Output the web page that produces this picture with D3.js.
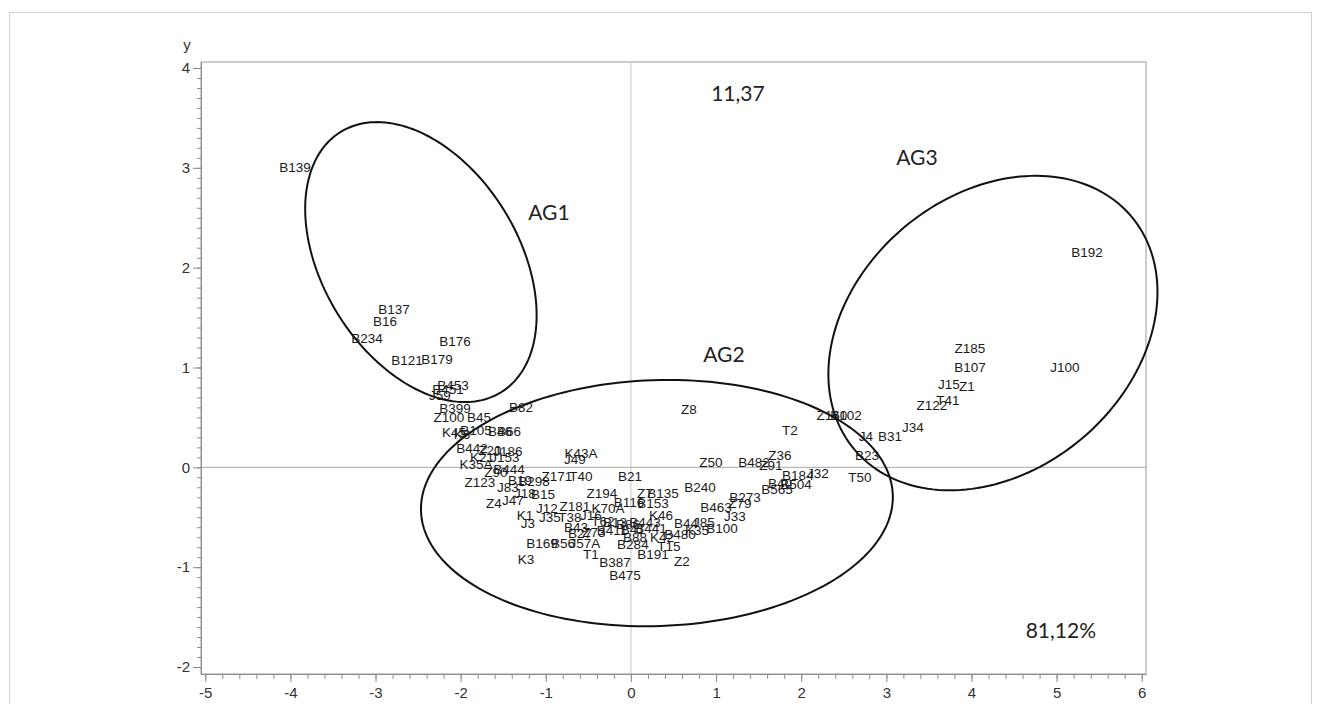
<!DOCTYPE html>
<html>
<head>
<meta charset="utf-8">
<script src="https://cdn.jsdelivr.net/npm/d3@7"></script>
<style>
  body { margin: 0; background: #fff; }
  svg { display: block; }
  .tick text { font-family: "Liberation Sans", Arial, sans-serif; font-size: 15px; fill: #333; }
  .axis path, .axis line { stroke: #8c8c8c; }
  .pt { font-family: "Liberation Sans", Arial, sans-serif; font-size: 13.5px; fill: #1a1a1a; }
  .note { font-family: Lato, "Open Sans", sans-serif; font-size: 21px; fill: #222; }
</style>
</head>
<body>
<svg id="chart"></svg>
<script>
// puntos (etiqueta, coordenada x, coordenada y)
const labels = ['B139','B137','B16','B234','B176','B121','B179','B453','B451','J59','B399','Z100','B45','K45','B105','K6','B46','B66','B82',
  'B442','Z20','J186','K21','J153','K35A','B444','Z90','Z123','J83','B19','B298','J18','B15','Z171','T40','K43A','J49','Z4','J47','K1','J3',
  'J12','Z181','J35','T38','J16','K70A','B43','B27','Z73','B169','B56','J57A','K3','T1','B387','B475','Z194','B21','B240','Z7','B135','B116',
  'B153','K46','T62','B13','B86','B443','B41','B441','B411','B88','B284','K42','B480','T15','B191','Z2','B44','J85','K35','B100','B463','Z79',
  'B273','J33','Z50','B482','Z91','Z36','T2','Z8','B184','J32','B40','B504','B565','Z160','B102','J4','B31','B23','T50','J34','Z122','T41',
  'J15','Z1','Z185','B107','J100','B192'];
const xs = [-3.946,-2.784,-2.889,-3.101,-2.067,-2.631,-2.279,-2.091,-2.149,-2.243,-2.067,-2.138,-1.785,-2.079,-1.821,-1.985,-1.539,-1.433,-1.292,
  -1.867,-1.656,-1.445,-1.750,-1.480,-1.821,-1.433,-1.586,-1.774,-1.445,-1.304,-1.139,-1.245,-1.034,-0.869,-0.587,-0.587,-0.658,-1.609,-1.386,-1.245,-1.210,
  -0.987,-0.658,-0.951,-0.716,-0.470,-0.270,-0.646,-0.599,-0.435,-1.045,-0.799,-0.540,-1.233,-0.470,-0.188,-0.070,-0.341,-0.012,0.810,0.164,0.376,-0.023,
  0.258,0.352,-0.329,-0.188,-0.035,0.164,0.023,0.235,-0.223,0.047,0.023,0.364,0.576,0.446,0.258,0.599,0.646,0.857,0.775,1.069,0.998,1.280,
  1.339,1.222,0.940,1.445,1.644,1.750,1.867,0.681,1.961,2.196,1.750,1.938,1.715,2.361,2.525,2.760,3.042,2.772,2.690,3.312,3.535,3.723,
  3.735,3.946,3.982,3.982,5.098,5.356];
const ys = [3.008,1.586,1.465,1.295,1.265,1.075,1.085,0.824,0.784,0.724,0.594,0.504,0.504,0.354,0.374,0.334,0.364,0.364,0.604,
  0.194,0.174,0.164,0.104,0.104,0.033,-0.017,-0.047,-0.148,-0.198,-0.128,-0.138,-0.258,-0.268,-0.088,-0.088,0.143,0.083,-0.358,-0.328,-0.478,-0.559,
  -0.408,-0.388,-0.498,-0.498,-0.478,-0.408,-0.599,-0.659,-0.649,-0.759,-0.759,-0.759,-0.919,-0.869,-0.949,-1.079,-0.258,-0.088,-0.198,-0.258,-0.258,-0.348,
  -0.358,-0.478,-0.539,-0.549,-0.569,-0.549,-0.619,-0.609,-0.629,-0.699,-0.769,-0.699,-0.669,-0.789,-0.869,-0.939,-0.559,-0.549,-0.629,-0.609,-0.398,-0.358,
  -0.298,-0.488,0.053,0.053,0.023,0.123,0.374,0.584,-0.078,-0.058,-0.158,-0.168,-0.218,0.524,0.524,0.314,0.314,0.123,-0.098,0.404,0.624,0.674,
  0.834,0.814,1.195,1.005,1.005,2.157];

// elipses de los grupos: centro y semiejes conjugados (unidades de datos)
const groups = ['AG1', 'AG2', 'AG3'];
const ellCenter = [[-2.467, 2.056], [0.305, -0.358], [4.252, 1.345]];
const ellAxisU = [[0.942, -1.304], [2.771, 0.082], [1.628, 1.166]];
const ellAxisV = [[-0.980, -0.515], [0.050, -1.231], [1.042, -1.059]];

// textos sueltos
const notes = ['11,37', 'AG1', 'AG2', 'AG3', '81,12%'];
const noteX = [1.257, -0.963, 1.092, 3.359, 5.050];
const noteY = [3.746, 2.557, 1.135, 3.108, -1.638];

const xTicks = d3.range(-5, 7);
const yTicks = d3.range(-2, 5);

const width = 1322;
const height = 704;

const svg = d3.select('#chart').attr('width', width).attr('height', height);

const x = d3.scaleLinear().domain([-5.05, 6.05]).range([201, 1146]);
const y = d3.scaleLinear().domain([-2.07, 4.06]).range([674, 62]);

// borde exterior
svg.append('rect')
  .attr('x', 9.5).attr('y', 12.5).attr('width', 1302).attr('height', 700)
  .attr('fill', 'none').attr('stroke', '#d0d0d0');

// marco del grafico
svg.append('rect')
  .attr('x', x(-5.05)).attr('y', y(4.06))
  .attr('width', x(6.05) - x(-5.05)).attr('height', y(-2.07) - y(4.06))
  .attr('fill', 'none').attr('stroke', '#9a9a9a');

// lineas de referencia en 0
svg.append('line')
  .attr('x1', x(-5.05)).attr('x2', x(6.05)).attr('y1', y(0)).attr('y2', y(0))
  .attr('stroke', '#a8a8a8');
svg.append('line')
  .attr('x1', x(0)).attr('x2', x(0)).attr('y1', y(4.06)).attr('y2', y(-2.07))
  .attr('stroke', '#c4c4c4');

// ejes
const yMinor = d3.range(-20, 41).map(d => d / 10);
const xMinor = d3.range(-25, 31).map(d => d / 5);
const fmt = d => String(d);

svg.append('g').attr('class', 'axis')
  .attr('transform', `translate(${x(-5.05)},0)`)
  .call(d3.axisLeft(y).tickValues(yMinor).tickSize(4).tickSizeOuter(0).tickFormat(''));
svg.append('g').attr('class', 'axis')
  .attr('transform', `translate(${x(-5.05)},0)`)
  .call(d3.axisLeft(y).tickValues(yTicks).tickSize(8).tickSizeOuter(0).tickPadding(3).tickFormat(fmt))
  .select('.domain').remove();

svg.append('g').attr('class', 'axis')
  .attr('transform', `translate(0,${y(-2.07)})`)
  .call(d3.axisBottom(x).tickValues(xMinor).tickSize(5).tickSizeOuter(0).tickFormat(''));
svg.append('g').attr('class', 'axis')
  .attr('transform', `translate(0,${y(-2.07)})`)
  .call(d3.axisBottom(x).tickValues(xTicks).tickSize(8).tickSizeOuter(0).tickPadding(5).tickFormat(fmt))
  .select('.domain').remove();

svg.append('text')
  .attr('x', x(-5.05) - 14).attr('y', y(4) - 18)
  .attr('text-anchor', 'middle')
  .style('font-family', '"Liberation Sans", Arial, sans-serif')
  .style('font-size', '15px').style('fill', '#333')
  .text('y');

// elipses
const ellLine = d3.line().curve(d3.curveLinearClosed);
groups.forEach((g, i) => {
  const pts = d3.range(0, 360, 2).map(a => {
    const t = a * Math.PI / 180;
    const px = ellCenter[i][0] + Math.cos(t) * ellAxisU[i][0] + Math.sin(t) * ellAxisV[i][0];
    const py = ellCenter[i][1] + Math.cos(t) * ellAxisU[i][1] + Math.sin(t) * ellAxisV[i][1];
    return [x(px), y(py)];
  });
  svg.append('path')
    .attr('d', ellLine(pts))
    .attr('fill', 'none')
    .attr('stroke', '#111')
    .attr('stroke-width', 2);
});

// etiquetas de los puntos
svg.append('g')
  .selectAll('text')
  .data(labels)
  .enter().append('text')
  .attr('class', 'pt')
  .attr('x', (d, i) => x(xs[i]))
  .attr('y', (d, i) => y(ys[i]))
  .attr('dy', '0.36em')
  .attr('text-anchor', 'middle')
  .text(d => d);

// anotaciones
svg.append('g')
  .selectAll('text')
  .data(notes)
  .enter().append('text')
  .attr('class', 'note')
  .attr('x', (d, i) => x(noteX[i]))
  .attr('y', (d, i) => y(noteY[i]))
  .attr('dy', '0.36em')
  .attr('text-anchor', 'middle')
  .text(d => d);
</script>
</body>
</html>
